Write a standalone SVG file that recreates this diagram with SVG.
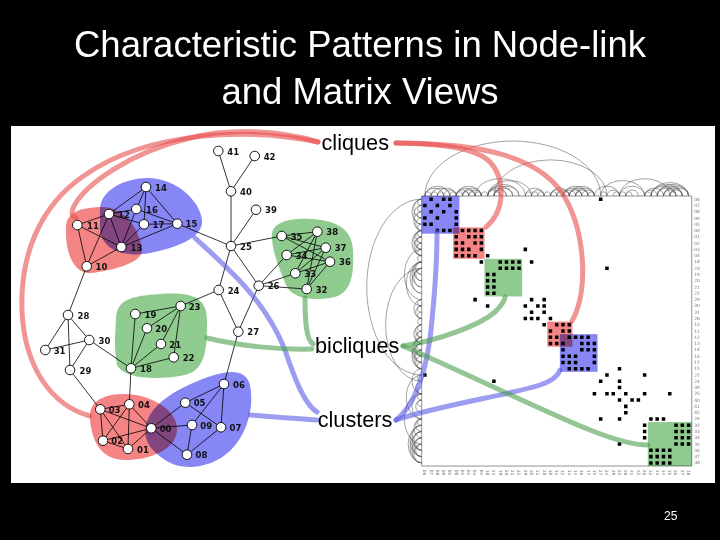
<svg xmlns="http://www.w3.org/2000/svg" xmlns:xlink="http://www.w3.org/1999/xlink" width="720" height="540" viewBox="0 0 720 540">
<style>
.title{font-family:"Liberation Sans",Arial,sans-serif;font-size:36.5px;fill:#fff;text-anchor:middle}
.e line{stroke:#000;stroke-width:.8}
.n circle{fill:#fff;stroke:#000;stroke-width:.9}
.n text{font-family:"DejaVu Sans",sans-serif;font-weight:bold;font-size:8.5px;fill:#111}
.blob{mix-blend-mode:multiply}
.red{fill:#f58585}
.blue{fill:#8686f5}
.green{fill:#8fca8f}
.lbl{font-family:"Liberation Sans",Arial,sans-serif;font-size:21.7px;fill:#000}
.c{fill:none;stroke-width:5;stroke-linecap:round;opacity:.6}
.cr{stroke:#e84c4c}
.cb{stroke:#5a5ae6}
.cg{stroke:#4c9e4c}
.arc{fill:none;stroke:#555;stroke-width:.55}
.mt{font-family:"DejaVu Sans",sans-serif;font-size:.7px;fill:#777}
</style>
<rect width="720" height="540" fill="#000"/>
<text class="title" x="360" y="57">Characteristic Patterns in Node-link</text>
<text class="title" x="360" y="104">and Matrix Views</text>
<rect x="11" y="126" width="704" height="357" fill="#fff"/>

<g id="blobs">
<path class="blob red" d="M66,228 C66,212 80,208 100,207 C125,206 140,230 142,250 C143,262 115,270 92,273 C75,275 65,255 66,228 Z"/>
<path class="blob blue" d="M100,210 C100,190 125,178 148,178 C175,178 200,200 202,220 C204,238 175,248 150,253 C125,258 102,250 100,230 Z"/>
<path class="blob green" d="M272,238 C270,222 290,218 310,219 C335,220 352,228 353,250 C354,275 352,295 330,298 C310,301 292,298 286,285 C280,270 273,255 272,238 Z"/>
<path class="blob green" d="M116,320 C116,300 130,296 160,294 C190,292 207,296 207,320 C207,345 207,370 185,375 C160,380 125,380 117,365 C114,350 115,335 116,320 Z"/>
<path class="blob red" d="M90,420 C88,400 105,394 125,394 C150,394 178,410 177,430 C176,450 150,460 125,460 C100,460 92,440 90,420 Z"/>
<path class="blob blue" d="M146,425 C150,405 175,390 200,380 C220,372 245,365 250,385 C255,410 245,440 225,455 C205,470 180,470 165,460 C150,450 143,440 146,425 Z"/>
</g>

<g id="edges" class="e">
<line x1="224" y1="384" x2="221" y2="427.3"/>
<line x1="224" y1="384" x2="192" y2="425"/>
<line x1="224" y1="384" x2="185.3" y2="402.7"/>
<line x1="224" y1="384" x2="238.3" y2="331.7"/>
<line x1="221" y1="427.3" x2="187" y2="454.7"/>
<line x1="221" y1="427.3" x2="185.3" y2="402.7"/>
<line x1="187" y1="454.7" x2="192" y2="425"/>
<line x1="187" y1="454.7" x2="151.3" y2="428.3"/>
<line x1="192" y1="425" x2="151.3" y2="428.3"/>
<line x1="185.3" y1="402.7" x2="151.3" y2="428.3"/>
<line x1="151.3" y1="428.3" x2="128" y2="449"/>
<line x1="151.3" y1="428.3" x2="103" y2="440.7"/>
<line x1="151.3" y1="428.3" x2="100.3" y2="409.3"/>
<line x1="151.3" y1="428.3" x2="129.3" y2="404.3"/>
<line x1="128" y1="449" x2="103" y2="440.7"/>
<line x1="128" y1="449" x2="100.3" y2="409.3"/>
<line x1="128" y1="449" x2="129.3" y2="404.3"/>
<line x1="103" y1="440.7" x2="100.3" y2="409.3"/>
<line x1="103" y1="440.7" x2="129.3" y2="404.3"/>
<line x1="100.3" y1="409.3" x2="129.3" y2="404.3"/>
<line x1="100.3" y1="409.3" x2="70" y2="370"/>
<line x1="129.3" y1="404.3" x2="131" y2="368.3"/>
<line x1="131" y1="368.3" x2="135.3" y2="314"/>
<line x1="131" y1="368.3" x2="147" y2="328.3"/>
<line x1="131" y1="368.3" x2="161" y2="344"/>
<line x1="131" y1="368.3" x2="173.7" y2="357.3"/>
<line x1="131" y1="368.3" x2="89.3" y2="340"/>
<line x1="180.7" y1="306" x2="135.3" y2="314"/>
<line x1="180.7" y1="306" x2="147" y2="328.3"/>
<line x1="180.7" y1="306" x2="161" y2="344"/>
<line x1="180.7" y1="306" x2="173.7" y2="357.3"/>
<line x1="180.7" y1="306" x2="218.7" y2="290"/>
<line x1="70" y1="370" x2="89.3" y2="340"/>
<line x1="70" y1="370" x2="68" y2="315"/>
<line x1="89.3" y1="340" x2="45.3" y2="350"/>
<line x1="89.3" y1="340" x2="68" y2="315"/>
<line x1="45.3" y1="350" x2="68" y2="315"/>
<line x1="68" y1="315" x2="86.7" y2="266.3"/>
<line x1="86.7" y1="266.3" x2="77.3" y2="225"/>
<line x1="86.7" y1="266.3" x2="109" y2="214"/>
<line x1="86.7" y1="266.3" x2="121.3" y2="247"/>
<line x1="77.3" y1="225" x2="109" y2="214"/>
<line x1="77.3" y1="225" x2="121.3" y2="247"/>
<line x1="109" y1="214" x2="121.3" y2="247"/>
<line x1="109" y1="214" x2="146" y2="187"/>
<line x1="109" y1="214" x2="136.3" y2="209"/>
<line x1="109" y1="214" x2="144" y2="224.3"/>
<line x1="121.3" y1="247" x2="136.3" y2="209"/>
<line x1="121.3" y1="247" x2="144" y2="224.3"/>
<line x1="121.3" y1="247" x2="177.3" y2="223.7"/>
<line x1="146" y1="187" x2="136.3" y2="209"/>
<line x1="146" y1="187" x2="144" y2="224.3"/>
<line x1="146" y1="187" x2="177.3" y2="223.7"/>
<line x1="136.3" y1="209" x2="177.3" y2="223.7"/>
<line x1="144" y1="224.3" x2="177.3" y2="223.7"/>
<line x1="177.3" y1="223.7" x2="231" y2="246"/>
<line x1="238.3" y1="331.7" x2="218.7" y2="290"/>
<line x1="238.3" y1="331.7" x2="258.7" y2="285.7"/>
<line x1="218.7" y1="290" x2="231" y2="246"/>
<line x1="256" y1="209.7" x2="231" y2="246"/>
<line x1="231" y1="246" x2="231" y2="191.3"/>
<line x1="231" y1="246" x2="258.7" y2="285.7"/>
<line x1="231" y1="246" x2="281.7" y2="236"/>
<line x1="231" y1="191.3" x2="218.3" y2="151"/>
<line x1="231" y1="191.3" x2="254.7" y2="156"/>
<line x1="258.7" y1="285.7" x2="306.7" y2="289"/>
<line x1="258.7" y1="285.7" x2="295.3" y2="273.3"/>
<line x1="258.7" y1="285.7" x2="286.7" y2="255"/>
<line x1="281.7" y1="236" x2="330" y2="261.7"/>
<line x1="281.7" y1="236" x2="325.7" y2="247.7"/>
<line x1="281.7" y1="236" x2="317.3" y2="231.7"/>
<line x1="286.7" y1="255" x2="330" y2="261.7"/>
<line x1="286.7" y1="255" x2="325.7" y2="247.7"/>
<line x1="286.7" y1="255" x2="317.3" y2="231.7"/>
<line x1="295.3" y1="273.3" x2="330" y2="261.7"/>
<line x1="295.3" y1="273.3" x2="325.7" y2="247.7"/>
<line x1="295.3" y1="273.3" x2="317.3" y2="231.7"/>
<line x1="306.7" y1="289" x2="330" y2="261.7"/>
<line x1="306.7" y1="289" x2="325.7" y2="247.7"/>
<line x1="306.7" y1="289" x2="317.3" y2="231.7"/>
</g>

<g id="nodes">
<g id="n41" class="n"><circle cx="218.3" cy="151" r="4.8"/><text x="227.3" y="154.5">41</text></g>
<g id="n42" class="n"><circle cx="254.7" cy="156" r="4.8"/><text x="263.7" y="159.5">42</text></g>
<g id="n40" class="n"><circle cx="231" cy="191.3" r="4.8"/><text x="240" y="194.8">40</text></g>
<g id="n39" class="n"><circle cx="256" cy="209.7" r="4.8"/><text x="265" y="213.2">39</text></g>
<g id="n25" class="n"><circle cx="231" cy="246" r="4.8"/><text x="240" y="249.5">25</text></g>
<g id="n24" class="n"><circle cx="218.7" cy="290" r="4.8"/><text x="227.7" y="293.5">24</text></g>
<g id="n26" class="n"><circle cx="258.7" cy="285.7" r="4.8"/><text x="267.7" y="289.2">26</text></g>
<g id="n27" class="n"><circle cx="238.3" cy="331.7" r="4.8"/><text x="247.3" y="335.2">27</text></g>
<g id="n35" class="n"><circle cx="281.7" cy="236" r="4.8"/><text x="290.7" y="239.5">35</text></g>
<g id="n38" class="n"><circle cx="317.3" cy="231.7" r="4.8"/><text x="326.3" y="235.2">38</text></g>
<g id="n34" class="n"><circle cx="286.7" cy="255" r="4.8"/><text x="295.7" y="258.5">34</text></g>
<g id="n37" class="n"><circle cx="325.7" cy="247.7" r="4.8"/><text x="334.7" y="251.2">37</text></g>
<g id="n36" class="n"><circle cx="330" cy="261.7" r="4.8"/><text x="339" y="265.2">36</text></g>
<g id="n33" class="n"><circle cx="295.3" cy="273.3" r="4.8"/><text x="304.3" y="276.8">33</text></g>
<g id="n32" class="n"><circle cx="306.7" cy="289" r="4.8"/><text x="315.7" y="292.5">32</text></g>
<g id="n14" class="n"><circle cx="146" cy="187" r="4.8"/><text x="155" y="190.5">14</text></g>
<g id="n16" class="n"><circle cx="136.3" cy="209" r="4.8"/><text x="146" y="212.5">16</text></g>
<g id="n12" class="n"><circle cx="109" cy="214" r="4.8"/><text x="118" y="217.5">12</text></g>
<g id="n11" class="n"><circle cx="77.3" cy="225" r="4.8"/><text x="87" y="228.5">11</text></g>
<g id="n17" class="n"><circle cx="144" cy="224.3" r="4.8"/><text x="152.5" y="227.8">17</text></g>
<g id="n15" class="n"><circle cx="177.3" cy="223.7" r="4.8"/><text x="185.5" y="227.2">15</text></g>
<g id="n13" class="n"><circle cx="121.3" cy="247" r="4.8"/><text x="130.5" y="250.5">13</text></g>
<g id="n10" class="n"><circle cx="86.7" cy="266.3" r="4.8"/><text x="95.5" y="269.8">10</text></g>
<g id="n28" class="n"><circle cx="68" cy="315" r="4.8"/><text x="77.5" y="318.5">28</text></g>
<g id="n23" class="n"><circle cx="180.7" cy="306" r="4.8"/><text x="188.7" y="309.5">23</text></g>
<g id="n19" class="n"><circle cx="135.3" cy="314" r="4.8"/><text x="144.5" y="317.5">19</text></g>
<g id="n20" class="n"><circle cx="147" cy="328.3" r="4.8"/><text x="155.3" y="331.8">20</text></g>
<g id="n30" class="n"><circle cx="89.3" cy="340" r="4.8"/><text x="98.5" y="343.5">30</text></g>
<g id="n31" class="n"><circle cx="45.3" cy="350" r="4.8"/><text x="53.7" y="353.5">31</text></g>
<g id="n21" class="n"><circle cx="161" cy="344" r="4.8"/><text x="169.3" y="347.5">21</text></g>
<g id="n22" class="n"><circle cx="173.7" cy="357.3" r="4.8"/><text x="182.7" y="360.8">22</text></g>
<g id="n18" class="n"><circle cx="131" cy="368.3" r="4.8"/><text x="140" y="371.8">18</text></g>
<g id="n29" class="n"><circle cx="70" cy="370" r="4.8"/><text x="79.5" y="373.5">29</text></g>
<g id="n04" class="n"><circle cx="129.3" cy="404.3" r="4.8"/><text x="138" y="407.8">04</text></g>
<g id="n03" class="n"><circle cx="100.3" cy="409.3" r="4.8"/><text x="108.7" y="412.8">03</text></g>
<g id="n05" class="n"><circle cx="185.3" cy="402.7" r="4.8"/><text x="193.7" y="406.2">05</text></g>
<g id="n06" class="n"><circle cx="224" cy="384" r="4.8"/><text x="233" y="387.5">06</text></g>
<g id="n00" class="n"><circle cx="151.3" cy="428.3" r="4.8"/><text x="159.7" y="431.8">00</text></g>
<g id="n09" class="n"><circle cx="192" cy="425" r="4.8"/><text x="200.3" y="428.5">09</text></g>
<g id="n07" class="n"><circle cx="221" cy="427.3" r="4.8"/><text x="229.5" y="430.8">07</text></g>
<g id="n02" class="n"><circle cx="103" cy="440.7" r="4.8"/><text x="111.3" y="444.2">02</text></g>
<g id="n01" class="n"><circle cx="128" cy="449" r="4.8"/><text x="137" y="452.5">01</text></g>
<g id="n08" class="n"><circle cx="187" cy="454.7" r="4.8"/><text x="195.5" y="458.2">08</text></g>
</g>

<g id="matrix" transform="translate(421.7,196) scale(6.28)">
<rect x="0" y="0" width="43" height="43" fill="#fff" stroke="#777" stroke-width=".8" vector-effect="non-scaling-stroke"/>
<g id="blocks">
<rect class="blob blue" x="0" y="0" width="6" height="6"/>
<rect class="blob red" x="5" y="5" width="5" height="5"/>
<rect class="blob green" x="10" y="10" width="6" height="6"/>
<rect class="blob red" x="20" y="20" width="4" height="4"/>
<rect class="blob blue" x="22" y="22" width="6" height="6"/>
<rect class="blob green" x="36" y="36" width="7" height="7"/>
</g>
<path id="dots" fill="#000" d="M1.22 .22h.56v.56h-.56zM3.22 .22h.56v.56h-.56zM4.22 .22h.56v.56h-.56zM28.22 .22h.56v.56h-.56zM2.22 1.22h.56v.56h-.56zM4.22 1.22h.56v.56h-.56zM3.22 2.22h.56v.56h-.56zM5.22 2.22h.56v.56h-.56zM5.22 3.22h.56v.56h-.56zM5.22 4.22h.56v.56h-.56zM6.22 5.22h.56v.56h-.56zM7.22 5.22h.56v.56h-.56zM8.22 5.22h.56v.56h-.56zM9.22 5.22h.56v.56h-.56zM7.22 6.22h.56v.56h-.56zM8.22 6.22h.56v.56h-.56zM9.22 6.22h.56v.56h-.56zM8.22 7.22h.56v.56h-.56zM9.22 7.22h.56v.56h-.56zM9.22 8.22h.56v.56h-.56zM16.22 8.22h.56v.56h-.56zM10.22 9.22h.56v.56h-.56zM12.22 10.22h.56v.56h-.56zM13.22 10.22h.56v.56h-.56zM14.22 10.22h.56v.56h-.56zM15.22 10.22h.56v.56h-.56zM17.22 10.22h.56v.56h-.56zM12.22 11.22h.56v.56h-.56zM13.22 11.22h.56v.56h-.56zM14.22 11.22h.56v.56h-.56zM15.22 11.22h.56v.56h-.56zM29.22 11.22h.56v.56h-.56zM17.22 16.22h.56v.56h-.56zM19.22 16.22h.56v.56h-.56zM18.22 17.22h.56v.56h-.56zM19.22 17.22h.56v.56h-.56zM19.22 18.22h.56v.56h-.56zM20.22 19.22h.56v.56h-.56zM21.22 20.22h.56v.56h-.56zM22.22 20.22h.56v.56h-.56zM23.22 20.22h.56v.56h-.56zM22.22 21.22h.56v.56h-.56zM23.22 21.22h.56v.56h-.56zM23.22 22.22h.56v.56h-.56zM24.22 22.22h.56v.56h-.56zM25.22 22.22h.56v.56h-.56zM26.22 22.22h.56v.56h-.56zM25.22 23.22h.56v.56h-.56zM26.22 23.22h.56v.56h-.56zM27.22 23.22h.56v.56h-.56zM25.22 24.22h.56v.56h-.56zM26.22 24.22h.56v.56h-.56zM27.22 24.22h.56v.56h-.56zM27.22 25.22h.56v.56h-.56zM27.22 26.22h.56v.56h-.56zM31.22 27.22h.56v.56h-.56zM29.22 28.22h.56v.56h-.56zM35.22 28.22h.56v.56h-.56zM31.22 29.22h.56v.56h-.56zM31.22 30.22h.56v.56h-.56zM32.22 31.22h.56v.56h-.56zM35.22 31.22h.56v.56h-.56zM39.22 31.22h.56v.56h-.56zM33.22 32.22h.56v.56h-.56zM34.22 32.22h.56v.56h-.56zM36.22 35.22h.56v.56h-.56zM37.22 35.22h.56v.56h-.56zM38.22 35.22h.56v.56h-.56zM40.22 36.22h.56v.56h-.56zM41.22 36.22h.56v.56h-.56zM42.22 36.22h.56v.56h-.56zM40.22 37.22h.56v.56h-.56zM41.22 37.22h.56v.56h-.56zM42.22 37.22h.56v.56h-.56zM40.22 38.22h.56v.56h-.56zM41.22 38.22h.56v.56h-.56zM42.22 38.22h.56v.56h-.56zM40.22 39.22h.56v.56h-.56zM41.22 39.22h.56v.56h-.56zM42.22 39.22h.56v.56h-.56z"/>
<use xlink:href="#dots" href="#dots" transform="matrix(0 1 1 0 0 0)"/>
<path id="arcs" class="arc" vector-effect="non-scaling-stroke" d="M.5 0A.5 .65 0 0 1 1.5 0M.5 0A1.5 1.25 0 0 1 3.5 0M.5 0A2 1.55 0 0 1 4.5 0M.5 0A14 8.75 0 0 1 28.5 0M1.5 0A.5 .65 0 0 1 2.5 0M1.5 0A1.5 1.25 0 0 1 4.5 0M2.5 0A.5 .65 0 0 1 3.5 0M2.5 0A1.5 1.25 0 0 1 5.5 0M3.5 0A1 .95 0 0 1 5.5 0M4.5 0A.5 .65 0 0 1 5.5 0M5.5 0A.5 .65 0 0 1 6.5 0M5.5 0A1 .95 0 0 1 7.5 0M5.5 0A1.5 1.25 0 0 1 8.5 0M5.5 0A2 1.55 0 0 1 9.5 0M6.5 0A.5 .65 0 0 1 7.5 0M6.5 0A1 .95 0 0 1 8.5 0M6.5 0A1.5 1.25 0 0 1 9.5 0M7.5 0A.5 .65 0 0 1 8.5 0M7.5 0A1 .95 0 0 1 9.5 0M8.5 0A.5 .65 0 0 1 9.5 0M8.5 0A4 2.75 0 0 1 16.5 0M9.5 0A.5 .65 0 0 1 10.5 0M10.5 0A1 .95 0 0 1 12.5 0M10.5 0A1.5 1.25 0 0 1 13.5 0M10.5 0A2 1.55 0 0 1 14.5 0M10.5 0A2.5 1.85 0 0 1 15.5 0M10.5 0A3.5 2.45 0 0 1 17.5 0M11.5 0A.5 .65 0 0 1 12.5 0M11.5 0A1 .95 0 0 1 13.5 0M11.5 0A1.5 1.25 0 0 1 14.5 0M11.5 0A2 1.55 0 0 1 15.5 0M11.5 0A9 5.75 0 0 1 29.5 0M16.5 0A.5 .65 0 0 1 17.5 0M16.5 0A1.5 1.25 0 0 1 19.5 0M17.5 0A.5 .65 0 0 1 18.5 0M17.5 0A1 .95 0 0 1 19.5 0M18.5 0A.5 .65 0 0 1 19.5 0M19.5 0A.5 .65 0 0 1 20.5 0M20.5 0A.5 .65 0 0 1 21.5 0M20.5 0A1 .95 0 0 1 22.5 0M20.5 0A1.5 1.25 0 0 1 23.5 0M21.5 0A.5 .65 0 0 1 22.5 0M21.5 0A1 .95 0 0 1 23.5 0M22.5 0A.5 .65 0 0 1 23.5 0M22.5 0A1 .95 0 0 1 24.5 0M22.5 0A1.5 1.25 0 0 1 25.5 0M22.5 0A2 1.55 0 0 1 26.5 0M23.5 0A1 .95 0 0 1 25.5 0M23.5 0A1.5 1.25 0 0 1 26.5 0M23.5 0A2 1.55 0 0 1 27.5 0M24.5 0A.5 .65 0 0 1 25.5 0M24.5 0A1 .95 0 0 1 26.5 0M24.5 0A1.5 1.25 0 0 1 27.5 0M25.5 0A1 .95 0 0 1 27.5 0M26.5 0A.5 .65 0 0 1 27.5 0M27.5 0A2 1.55 0 0 1 31.5 0M28.5 0A.5 .65 0 0 1 29.5 0M28.5 0A3.5 2.45 0 0 1 35.5 0M29.5 0A1 .95 0 0 1 31.5 0M30.5 0A.5 .65 0 0 1 31.5 0M31.5 0A.5 .65 0 0 1 32.5 0M31.5 0A2 1.55 0 0 1 35.5 0M31.5 0A4 2.75 0 0 1 39.5 0M32.5 0A.5 .65 0 0 1 33.5 0M32.5 0A1 .95 0 0 1 34.5 0M35.5 0A.5 .65 0 0 1 36.5 0M35.5 0A1 .95 0 0 1 37.5 0M35.5 0A1.5 1.25 0 0 1 38.5 0M36.5 0A2 1.55 0 0 1 40.5 0M36.5 0A2.5 1.85 0 0 1 41.5 0M36.5 0A3 2.15 0 0 1 42.5 0M37.5 0A1.5 1.25 0 0 1 40.5 0M37.5 0A2 1.55 0 0 1 41.5 0M37.5 0A2.5 1.85 0 0 1 42.5 0M38.5 0A1 .95 0 0 1 40.5 0M38.5 0A1.5 1.25 0 0 1 41.5 0M38.5 0A2 1.55 0 0 1 42.5 0M39.5 0A.5 .65 0 0 1 40.5 0M39.5 0A1 .95 0 0 1 41.5 0M39.5 0A1.5 1.25 0 0 1 42.5 0"/>
<use xlink:href="#arcs" href="#arcs" transform="matrix(0 1 1 0 0 0)"/>
<text class="mt"><tspan x="43.4" y=".75">06</tspan><tspan x="43.4" y="1.75">07</tspan><tspan x="43.4" y="2.75">08</tspan><tspan x="43.4" y="3.75">09</tspan><tspan x="43.4" y="4.75">05</tspan><tspan x="43.4" y="5.75">00</tspan><tspan x="43.4" y="6.75">01</tspan><tspan x="43.4" y="7.75">02</tspan><tspan x="43.4" y="8.75">03</tspan><tspan x="43.4" y="9.75">04</tspan><tspan x="43.4" y="10.75">18</tspan><tspan x="43.4" y="11.75">23</tspan><tspan x="43.4" y="12.75">19</tspan><tspan x="43.4" y="13.75">20</tspan><tspan x="43.4" y="14.75">21</tspan><tspan x="43.4" y="15.75">22</tspan><tspan x="43.4" y="16.75">29</tspan><tspan x="43.4" y="17.75">30</tspan><tspan x="43.4" y="18.75">31</tspan><tspan x="43.4" y="19.75">28</tspan><tspan x="43.4" y="20.75">10</tspan><tspan x="43.4" y="21.75">11</tspan><tspan x="43.4" y="22.75">12</tspan><tspan x="43.4" y="23.75">13</tspan><tspan x="43.4" y="24.75">14</tspan><tspan x="43.4" y="25.75">16</tspan><tspan x="43.4" y="26.75">17</tspan><tspan x="43.4" y="27.75">15</tspan><tspan x="43.4" y="28.75">27</tspan><tspan x="43.4" y="29.75">24</tspan><tspan x="43.4" y="30.75">39</tspan><tspan x="43.4" y="31.75">25</tspan><tspan x="43.4" y="32.75">40</tspan><tspan x="43.4" y="33.75">41</tspan><tspan x="43.4" y="34.75">42</tspan><tspan x="43.4" y="35.75">26</tspan><tspan x="43.4" y="36.75">32</tspan><tspan x="43.4" y="37.75">33</tspan><tspan x="43.4" y="38.75">34</tspan><tspan x="43.4" y="39.75">35</tspan><tspan x="43.4" y="40.75">36</tspan><tspan x="43.4" y="41.75">37</tspan><tspan x="43.4" y="42.75">38</tspan></text>
<g transform="rotate(90)"><text class="mt"><tspan x="43.6" y="-.25">06</tspan><tspan x="43.6" y="-1.25">07</tspan><tspan x="43.6" y="-2.25">08</tspan><tspan x="43.6" y="-3.25">09</tspan><tspan x="43.6" y="-4.25">05</tspan><tspan x="43.6" y="-5.25">00</tspan><tspan x="43.6" y="-6.25">01</tspan><tspan x="43.6" y="-7.25">02</tspan><tspan x="43.6" y="-8.25">03</tspan><tspan x="43.6" y="-9.25">04</tspan><tspan x="43.6" y="-10.25">18</tspan><tspan x="43.6" y="-11.25">23</tspan><tspan x="43.6" y="-12.25">19</tspan><tspan x="43.6" y="-13.25">20</tspan><tspan x="43.6" y="-14.25">21</tspan><tspan x="43.6" y="-15.25">22</tspan><tspan x="43.6" y="-16.25">29</tspan><tspan x="43.6" y="-17.25">30</tspan><tspan x="43.6" y="-18.25">31</tspan><tspan x="43.6" y="-19.25">28</tspan><tspan x="43.6" y="-20.25">10</tspan><tspan x="43.6" y="-21.25">11</tspan><tspan x="43.6" y="-22.25">12</tspan><tspan x="43.6" y="-23.25">13</tspan><tspan x="43.6" y="-24.25">14</tspan><tspan x="43.6" y="-25.25">16</tspan><tspan x="43.6" y="-26.25">17</tspan><tspan x="43.6" y="-27.25">15</tspan><tspan x="43.6" y="-28.25">27</tspan><tspan x="43.6" y="-29.25">24</tspan><tspan x="43.6" y="-30.25">39</tspan><tspan x="43.6" y="-31.25">25</tspan><tspan x="43.6" y="-32.25">40</tspan><tspan x="43.6" y="-33.25">41</tspan><tspan x="43.6" y="-34.25">42</tspan><tspan x="43.6" y="-35.25">26</tspan><tspan x="43.6" y="-36.25">32</tspan><tspan x="43.6" y="-37.25">33</tspan><tspan x="43.6" y="-38.25">34</tspan><tspan x="43.6" y="-39.25">35</tspan><tspan x="43.6" y="-40.25">36</tspan><tspan x="43.6" y="-41.25">37</tspan><tspan x="43.6" y="-42.25">38</tspan></text></g>
</g>

<g id="callouts">
<path class="c cr" d="M318,142 C280,130 230,128 190,138 C130,152 85,185 74,206 C71,212 71,216 76,218"/>
<path class="c cr" d="M318,142 C250,128 150,130 85,175 C40,205 20,255 22,310 C24,365 50,405 90,416"/>
<path class="c cr" d="M396,143 C440,144 475,147 490,162 C505,178 506,210 486,227"/>
<path class="c cr" d="M396,143 C460,143 530,150 560,190 C585,225 590,290 572,321"/>
<path class="c cb" d="M195,238 C230,270 265,300 285,350 C295,380 305,405 317,412"/>
<path class="c cb" d="M250,415 C275,417 300,419 317,420"/>
<path class="c cb" d="M396,420 C415,405 428,370 432,320 C436,280 437,250 437,232"/>
<path class="c cb" d="M396,420 C440,405 510,395 540,385 C552,381 558,376 560,370"/>
<path class="c cg" d="M207,338 C240,346 280,350 312,349"/>
<path class="c cg" d="M305,298 C305,320 306,340 313,344"/>
<path class="c cg" d="M403,346 C440,340 480,325 495,312 C502,305 505,300 505,297"/>
<path class="c cg" d="M403,346 C470,375 540,410 590,430 C615,440 635,445 648,445"/>
</g>

<g id="labels">
<g id="cliques"><text class="lbl" x="321.5" y="150">cliques</text></g>
<g id="bicliques"><text class="lbl" x="315" y="353">bicliques</text></g>
<g id="clusters"><text class="lbl" x="317.7" y="427">clusters</text></g>
</g>
<text x="664" y="519.5" font-family="Liberation Sans, Arial, sans-serif" font-size="12" fill="#fff">25</text>
</svg>
